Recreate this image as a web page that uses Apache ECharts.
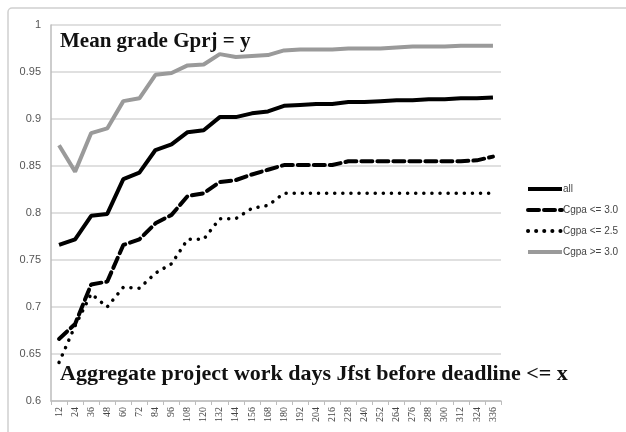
<!DOCTYPE html>
<html>
<head>
<meta charset="utf-8">
<script src="https://cdn.jsdelivr.net/npm/echarts@6/dist/echarts.min.js"></script>
<style>
  html, body { margin: 0; padding: 0; background: #fff; }
  #chart { width: 626px; height: 432px; }
</style>
</head>
<body>
<div id="chart"></div>
<script>
// x categories: aggregate work days
var days = [12, 24, 36, 48, 60, 72, 84, 96, 108, 120, 132, 144, 156, 168, 180, 192, 204, 216, 228, 240, 252, 264, 276, 288, 300, 312, 324, 336];

var allStudents = [0.766, 0.772, 0.797, 0.799, 0.836, 0.843, 0.867, 0.873, 0.886, 0.888, 0.902, 0.902, 0.906, 0.908, 0.914, 0.915, 0.916, 0.916, 0.918, 0.918, 0.919, 0.920, 0.920, 0.921, 0.921, 0.922, 0.922, 0.923];
var cgpaLe30 = [0.666, 0.682, 0.724, 0.727, 0.766, 0.772, 0.789, 0.798, 0.818, 0.821, 0.833, 0.835, 0.841, 0.846, 0.851, 0.851, 0.851, 0.851, 0.855, 0.855, 0.855, 0.855, 0.855, 0.855, 0.855, 0.855, 0.856, 0.860];
var cgpaLe25 = [0.641, 0.680, 0.714, 0.700, 0.721, 0.720, 0.736, 0.746, 0.772, 0.772, 0.794, 0.794, 0.805, 0.808, 0.821, 0.821, 0.821, 0.821, 0.821, 0.821, 0.821, 0.821, 0.821, 0.821, 0.821, 0.821, 0.821, 0.821];
var cgpaGe30 = [0.872, 0.844, 0.885, 0.890, 0.919, 0.922, 0.947, 0.949, 0.957, 0.958, 0.969, 0.966, 0.967, 0.968, 0.973, 0.974, 0.974, 0.974, 0.975, 0.975, 0.975, 0.976, 0.977, 0.977, 0.977, 0.978, 0.978, 0.978];

var myChart = echarts.init(document.getElementById('chart'));

var option = {
    backgroundColor: '#fff',
    animation: false,
    grid: { left: 51, right: 125, top: 25, bottom: 31 },
    graphic: [
        {
            type: 'rect',
            shape: { x: 8, y: 8, width: 640, height: 460, r: 4 },
            style: { fill: null, stroke: '#d0d0d0', lineWidth: 1.5 },
            silent: true
        },
        {
            type: 'text', left: 60, top: 31,
            style: { text: 'Mean grade Gprj = y', font: 'bold 21px "Liberation Serif"', fill: '#111' }
        },
        {
            type: 'text', left: 60, top: 363,
            style: { text: 'Aggregate project work days Jfst before deadline <= x', font: 'bold 22px "Liberation Serif"', fill: '#111' }
        }
    ],
    legend: {
        orient: 'vertical',
        left: 521,
        top: 179,
        itemWidth: 34,
        itemHeight: 12,
        itemGap: 11,
        itemStyle: { opacity: 0 },
        lineStyle: { width: 4 },
        textStyle: { fontFamily: 'Liberation Sans', fontSize: 10, color: '#444', padding: [0, 0, 0, -4] },
        data: ['all', 'Cgpa <= 3.0', 'Cgpa <= 2.5', 'Cgpa >= 3.0']
    },
    xAxis: {
        type: 'category',
        data: days,
        boundaryGap: true,
        axisLine: { lineStyle: { color: '#bdbdbd', width: 1.5 } },
        axisTick: { show: true, length: 4, alignWithLabel: false, lineStyle: { color: '#bdbdbd' } },
        axisLabel: { rotate: 90, interval: 0, fontFamily: 'Liberation Serif', fontSize: 10, color: '#444', margin: 6 }
    },
    yAxis: {
        type: 'value',
        min: 0.6,
        max: 1,
        interval: 0.05,
        axisLine: { show: true, lineStyle: { color: '#bdbdbd', width: 1.5 } },
        axisTick: { show: false },
        splitLine: { lineStyle: { color: '#d6d6d6', width: 1.5 } },
        axisLabel: { fontFamily: 'Liberation Sans', fontSize: 11, color: '#555', margin: 10 }
    },
    series: [
        {
            name: 'all', type: 'line', data: allStudents, symbol: 'none',
            lineStyle: { color: '#000', width: 4 }, itemStyle: { color: '#000' }
        },
        {
            name: 'Cgpa <= 3.0', type: 'line', data: cgpaLe30, symbol: 'none',
            lineStyle: { color: '#000', width: 4, type: [11, 5], cap: 'round' }, itemStyle: { color: '#000' }
        },
        {
            name: 'Cgpa <= 2.5', type: 'line', data: cgpaLe25, symbol: 'none',
            lineStyle: { color: '#000', width: 3.5, type: [0.1, 8], cap: 'round' }, itemStyle: { color: '#000' }
        },
        {
            name: 'Cgpa >= 3.0', type: 'line', data: cgpaGe30, symbol: 'none',
            lineStyle: { color: '#9a9a9a', width: 4 }, itemStyle: { color: '#9a9a9a' }
        }
    ]
};

myChart.setOption(option);
</script>
</body>
</html>
